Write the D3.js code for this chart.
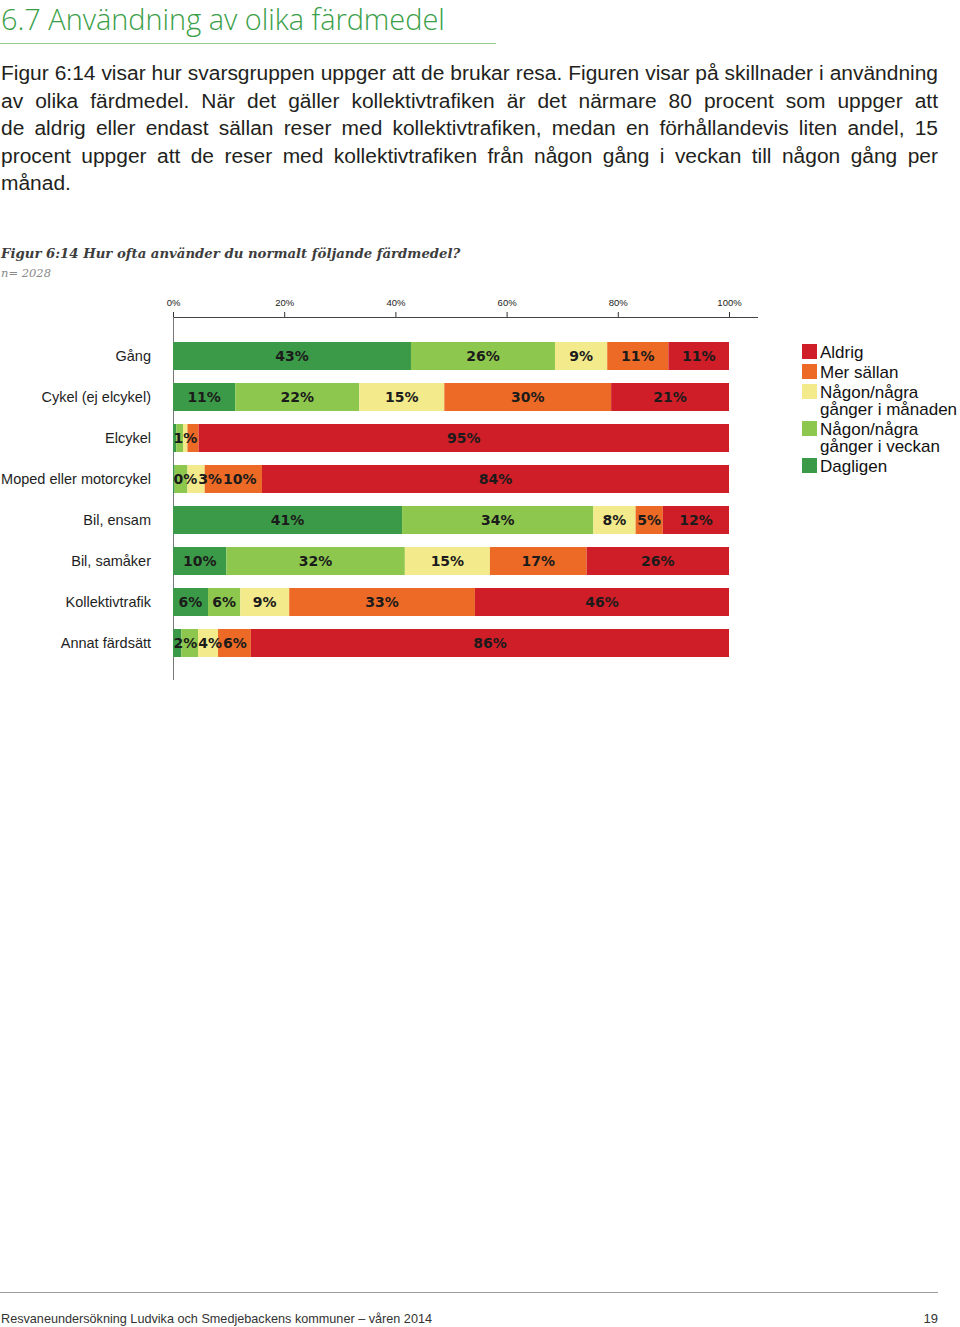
<!DOCTYPE html>
<html><head><meta charset="utf-8">
<script src="https://cdn.jsdelivr.net/npm/d3@7"></script>
<style>html,body{margin:0;padding:0;background:#fff}svg{display:block}</style>
</head><body>
<script>
// ---- data ----
const categories = ["Gång","Cykel (ej elcykel)","Elcykel","Moped eller motorcykel","Bil, ensam","Bil, samåker","Kollektivtrafik","Annat färdsätt"];
const seriesNames = ["Dagligen","Någon/några gånger i veckan","Någon/några gånger i månaden","Mer sällan","Aldrig"];
const dagligen  = [42.8, 11.2, 0.6, 0.3, 41.2,  9.6,  6.3,  1.5];
const veckan    = [25.9, 22.3, 1.2, 2.3, 34.4, 32.1,  5.8,  3.0];
const manaden   = [ 9.4, 15.3, 0.8, 3.1,  7.6, 15.3,  8.8,  3.6];
const merSallan = [11.0, 30.0, 2.0,10.3,  4.9, 17.4, 33.4,  5.9];
const aldrig    = [10.9, 21.2,95.4,84.0, 11.9, 25.6, 45.7, 86.0];
const tickValues = [0, 20, 40, 60, 80, 100];
// labels not shown in the original (category -> series indices)
const hiddenLabels = {"Elcykel":[0,1,3], "Moped eller motorcykel":[1], "Annat färdsätt":[1]};
const legendItems = [["Aldrig"],["Mer sällan"],["Någon/några","gånger i månaden"],["Någon/några","gånger i veckan"],["Dagligen"]];
const legendSeries = [4,3,2,1,0];

const titleText = "6.7 Användning av olika färdmedel";
const paragraph = [
 "Figur 6:14 visar hur svarsgruppen uppger att de brukar resa. Figuren visar på skillnader i användning",
 "av olika färdmedel. När det gäller kollektivtrafiken är det närmare 80 procent som uppger att",
 "de aldrig eller endast sällan reser med kollektivtrafiken, medan en förhållandevis liten andel, 15",
 "procent uppger att de reser med kollektivtrafiken från någon gång i veckan till någon gång per",
 "månad."
];
const figTitle = "Figur 6:14 Hur ofta använder du normalt följande färdmedel?";
const nText = "n= 2028";
const footerText = "Resvaneundersökning Ludvika och Smedjebackens kommuner – våren 2014";
const pageNo = "19";

// ---- drawing ----
const colors = ["#3b9a47","#8dc74e","#f3eb8b","#ec6a25","#cf1e28"];
const W = 960, H = 1327;
const svg = d3.select("body").append("svg").attr("width", W).attr("height", H);
svg.append("rect").attr("width", W).attr("height", H).attr("fill", "#fff");

function fitText(sel, width) {
  const w = sel.node().getComputedTextLength();
  const fs = parseFloat(sel.attr("font-size"));
  sel.attr("font-size", fs * width / w);
}

// title
const t = svg.append("text").attr("x", 1).attr("y", 30).attr("font-family", "'Open Sans', 'Liberation Sans', sans-serif")
  .attr("font-weight", 300).attr("font-size", 28).attr("fill", "#3a9e48").text(titleText);
fitText(t, 444);
svg.append("line").attr("x1", 0).attr("x2", 496).attr("y1", 43.5).attr("y2", 43.5).attr("stroke", "#93cc95").attr("stroke-width", 1);

// paragraph (justified); font size chosen so that the first line fits naturally
const pFont = "'Liberation Sans', Arial, sans-serif";
let pSize = 20;
{
  const probe = svg.append("text").attr("font-family", pFont).attr("font-size", pSize).text(paragraph[0]);
  const w = probe.node().getComputedTextLength();
  pSize = pSize * 936 / w;
  probe.remove();
}
paragraph.forEach((line, i) => {
  const y = 80 + i * 27.5;
  const words = line.split(" ");
  const g = svg.append("g");
  const ws = words.map(wd => g.append("text").attr("y", y).attr("font-family", pFont).attr("font-size", pSize).attr("fill", "#231f20").text(wd));
  const widths = ws.map(s => s.node().getComputedTextLength());
  const total = d3.sum(widths);
  const justify = i < paragraph.length - 1;
  const gap = justify ? (937 - total) / (words.length - 1) : pSize * 0.278;
  let xx = 1;
  ws.forEach((s, k) => { s.attr("x", xx); xx += widths[k] + gap; });
});

// figure title
const ft = svg.append("text").attr("x", 1).attr("y", 258).attr("font-family", "'DejaVu Serif', serif").attr("font-style", "italic")
  .attr("font-weight", "bold").attr("font-size", 15).attr("fill", "#3d3d3d").text(figTitle);
fitText(ft, 460);
const nt = svg.append("text").attr("x", 1).attr("y", 277).attr("font-family", "'DejaVu Serif', serif").attr("font-style", "italic")
  .attr("font-size", 11).attr("fill", "#8a8a8a").text(nText);
fitText(nt, 50);

// scales
const x = d3.scaleLinear().domain([0, 100]).range([173, 729]);
const y = d3.scaleBand().domain(categories).range([335.5, 663.5]).paddingInner(0.317).paddingOuter(0.1585);

// axis
const axisG = svg.append("g").attr("transform", "translate(0,317)");
axisG.call(d3.axisTop(x).tickValues(tickValues).tickFormat(d => d + "%").tickSize(5).tickSizeOuter(0));
axisG.select(".domain").remove();
axisG.selectAll(".tick line").attr("stroke", "#333");
axisG.selectAll(".tick text").attr("font-family", "'Liberation Sans', Arial, sans-serif").attr("font-size", 9.5).attr("fill", "#222").attr("dy", "-0.3em");
svg.append("line").attr("x1", 173).attr("x2", 758).attr("y1", 317.5).attr("y2", 317.5).attr("stroke", "#444");
svg.append("line").attr("x1", 173.5).attr("x2", 173.5).attr("y1", 317).attr("y2", 680).attr("stroke", "#777");

// bars
const seriesArrays = [dagligen, veckan, manaden, merSallan, aldrig];
const rows = categories.map((c, i) => {
  let acc = 0;
  return seriesArrays.map((arr, s) => { const v = arr[i]; const seg = {cat: c, s, v, x0: acc, x1: acc + v}; acc += v; return seg; });
});
const barsG = svg.append("g");
rows.forEach(segs => {
  barsG.selectAll(null).data(segs).enter().append("rect")
    .attr("x", d => x(d.x0)).attr("width", d => x(d.x1) - x(d.x0))
    .attr("y", d => y(d.cat)).attr("height", y.bandwidth())
    .attr("fill", d => colors[d.s]);
});

// value labels with simple overlap avoidance
const labG = svg.append("g");
rows.forEach(segs => {
  let prevRight = x(0) + 0.5;
  segs.forEach(d => {
    if ((hiddenLabels[d.cat] || []).includes(d.s)) return;
    const lab = labG.append("text").attr("font-family", "'DejaVu Sans', Verdana, sans-serif").attr("font-weight", "bold")
      .attr("font-size", 14).attr("fill", "#1b1b1b").attr("text-anchor", "middle")
      .attr("y", y(d.cat) + y.bandwidth() / 2 + 5).text(Math.round(d.v) + "%");
    const w = lab.node().getComputedTextLength();
    let left = (x(d.x0) + x(d.x1)) / 2 - w / 2;
    left = Math.max(left, prevRight);
    lab.attr("x", left + w / 2);
    prevRight = left + w + 1;
  });
});

// category labels
svg.append("g").selectAll("text").data(categories).enter().append("text")
  .attr("x", 151).attr("y", d => y(d) + y.bandwidth() / 2 + 5)
  .attr("text-anchor", "end").attr("font-family", "'Liberation Sans', Arial, sans-serif").attr("font-size", 14.5).attr("fill", "#1e1e1e")
  .text(d => d);

// legend
const lg = svg.append("g");
let ly = 358;
legendItems.forEach((lines, i) => {
  lg.append("rect").attr("x", 802).attr("y", ly - 14).attr("width", 15).attr("height", 15).attr("fill", colors[legendSeries[i]]);
  lines.forEach((ln, k) => {
    lg.append("text").attr("x", 820).attr("y", ly + k * 17).attr("font-family", "'Liberation Sans', Arial, sans-serif")
      .attr("font-size", 17).attr("fill", "#111").text(ln);
  });
  ly += (lines.length - 1) * 17 + 20;
});

// footer
svg.append("line").attr("x1", 0).attr("x2", 938).attr("y1", 1292.5).attr("y2", 1292.5).attr("stroke", "#9a9a9a");
svg.append("text").attr("x", 1).attr("y", 1323).attr("font-family", "'Liberation Sans', Arial, sans-serif").attr("font-size", 13)
  .attr("fill", "#333").attr("textLength", 431).attr("lengthAdjust", "spacingAndGlyphs").text(footerText);
svg.append("text").attr("x", 938).attr("y", 1323).attr("text-anchor", "end").attr("font-family", "'Liberation Sans', Arial, sans-serif")
  .attr("font-size", 13).attr("fill", "#333").text(pageNo);
</script>
</body></html>
